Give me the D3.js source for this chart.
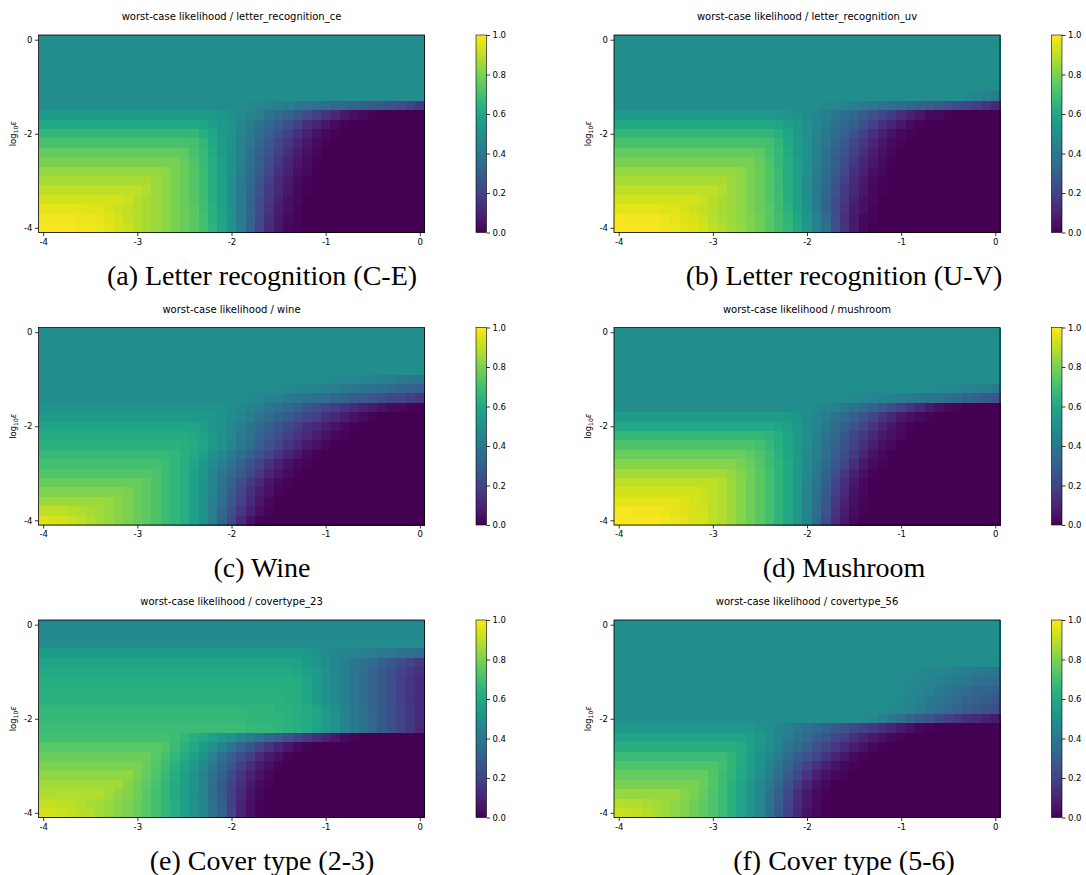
<!DOCTYPE html>
<meta charset="utf-8">
<style>
body { margin: 0; background: #fff; }
svg { display: block; }
.axis text { font-family: "DejaVu Sans", sans-serif; font-size: 8.5px; fill: #000; }
.axis path { display: none; }
.axis line { stroke: #000; stroke-width: 0.8; }
.title { font-family: "DejaVu Sans", sans-serif; font-size: 10px; fill: #000; }
.ylabel { font-family: "DejaVu Sans", sans-serif; font-size: 8.5px; fill: #000; }
.caption { font-family: "Liberation Serif", serif; font-size: 28px; fill: #000; }
.cell { shape-rendering: crispEdges; }
</style>
<svg width="1086" height="875" class="top"></svg>
<script src="https://d3js.org/d3.v7.min.js"></script>
<script>

// ticks and labels
var xTicks = [-4, -3, -2, -1, 0];
var yTicks = [0, -2, -4];
var cbTicks = [0, 0.2, 0.4, 0.6, 0.8, 1.0];
var titles = ["worst-case likelihood / letter_recognition_ce", "worst-case likelihood / letter_recognition_uv",
  "worst-case likelihood / wine", "worst-case likelihood / mushroom",
  "worst-case likelihood / covertype_23", "worst-case likelihood / covertype_56"];
var captions = ["(a) Letter recognition (C-E)", "(b) Letter recognition (U-V)", "(c) Wine",
  "(d) Mushroom", "(e) Cover type (2-3)", "(f) Cover type (5-6)"];

// grid values in hundredths, rows from log10 eps = 0 (top) down to -4,
// columns from x = -4 to 0 in steps of 0.1 (groups of ten)
var letterCe = [
  "49494949494949494949 49494949494949494949 49494949494949494949 49494949494949494949 49",
  "49494949494949494949 49494949494949494949 49494949494949494949 49494949494949494949 49",
  "49494949494949494949 49494949494949494949 49494949494949494949 49494949494949494949 49",
  "49494949494949494949 49494949494949494949 49494949494949494949 49494949494949494949 49",
  "49494949494949494949 49494949494949494949 49494949494949494949 49494949494949494949 49",
  "49494949494949494949 49494949494949494949 49494949494949494949 49494949494949494949 49",
  "49494949494949494949 49494949494949494949 49494949494949494949 49494949494949494949 49",
  "49494949494949494949 49494949494949494949 49494746454342403937 36343331302827252320 16",
  "55555555555555555555 55555555555555555452 50484542383531272319 15110704020100000000 00",
  "60606060606060606060 60606060606060595653 50464238332924191410 06030100000000000000 00",
  "66666666666666666666 66666666666666635954 50454035302519140905 02010000000000000000 00",
  "71717171717171717171 71717171717170666055 50443933272116100603 01000000000000000000 00",
  "76767676767676767676 76767676767571676155 50443731251913080402 00000000000000000000 00",
  "80808080808080808080 80808080797672676256 50433629231610060301 00000000000000000000 00",
  "84848484848484848484 84848483807773686256 50423528211409040200 00000000000000000000 00",
  "87878787878787878787 87878583807773686256 49413426191207030100 00000000000000000000 00",
  "90909090909090909090 90888583807773686356 49413325171106020100 00000000000000000000 00",
  "93939393939393939392 89878583807773696357 49413224160904020000 00000000000000000000 00",
  "96969696969595949291 89878583807774696457 50413223150804010000 00000000000000000000 00",
  "98989898979796959391 89878583807774706458 50413122140703010000 00000000000000000000 00",
  "99999999989897969492 89878583807774706559 51423121120602010000 00000000000000000000 00"
];

var letterUv = [
  "49494949494949494949 49494949494949494949 49494949494949494949 49494949494949494949 49",
  "49494949494949494949 49494949494949494949 49494949494949494949 49494949494949494949 49",
  "49494949494949494949 49494949494949494949 49494949494949494949 49494949494949494949 49",
  "49494949494949494949 49494949494949494949 49494949494949494949 49494949494949494949 49",
  "49494949494949494949 49494949494949494949 49494949494949494949 49494949494949494949 49",
  "49494949494949494949 49494949494949494949 49494949494949494949 49494949494949494949 49",
  "49494949494949494949 49494949494949494949 49494949494949494949 49494949494949474644 42",
  "49494949494949494949 49494949494949494949 49494746444341403836 35333129272523211815 12",
  "54545454545454545454 54545454545454535250 48464340363329252117 13090603020100000000 00",
  "60606060606060606060 60606060606060595653 50464238332924191410 06030100000000000000 00",
  "66666666666666666666 66666666666666635954 50454035302519140905 02010000000000000000 00",
  "71717171717171717171 71717171717170666055 50443933272116100603 01000000000000000000 00",
  "76767676767676767676 76767676767571676155 50443731251913080402 00000000000000000000 00",
  "80808080808080808080 80808080797672676256 50433629231610060301 00000000000000000000 00",
  "84848484848484848484 84848483807773686256 50423528211409040200 00000000000000000000 00",
  "87878787878787878787 87878583807773686256 49413426191207030100 00000000000000000000 00",
  "90909090909090909090 90888583807773686356 49413325171106020100 00000000000000000000 00",
  "93939393939393939392 89878583807773696357 49413224160904020000 00000000000000000000 00",
  "96969696969595949291 89878583807774696457 50413223150804010000 00000000000000000000 00",
  "99989898989796959492 89878583817874706559 52443424140702010000 00000000000000000000 00",
  "99999999999897969593 90888684817874706660 53453625150702000000 00000000000000000000 00"
];

var wine = [
  "49494949494949494949 49494949494949494949 49494949494949494949 49494949494949494949 49",
  "49494949494949494949 49494949494949494949 49494949494949494949 49494949494949494949 49",
  "49494949494949494949 49494949494949494949 49494949494949494949 49494949494949494949 49",
  "49494949494949494949 49494949494949494949 49494949494949494949 49494949494949494949 49",
  "49494949494949494949 49494949494949494949 49494949494949494949 49494949494949494949 49",
  "49494949494949494949 49494949494949494949 49494949494949494949 48474646454443424140 39",
  "49494949494949494949 49494949494949494949 49494949494847464544 43424140383736343331 30",
  "49494949494949494949 49494949494949494949 49494746444341403836 35333129282624222119 17",
  "50505050505050505050 50505050505050505050 49474542393633302724 21181512090705030201 00",
  "54545454545454545454 54545454545454545351 48454238353128242118 14110805030100000000 00",
  "58585858585858585858 58585858585858565350 46423834302622181411 08050301000000000000 00",
  "61616161616161616161 61616161616160575450 46413732282319151108 05020100000000000000 00",
  "64646464646464646464 64646464646361585450 45403530252015110704 02000000000000000000 00",
  "67676767676767676767 67676767666360565146 41363025201510060301 00000000000000000000 00",
  "70707070707070707070 70707069666258534842 37312520140905020100 00000000000000000000 00",
  "73737373737373737373 73737269666257524640 34282216100603010000 00000000000000000000 00",
  "77777777777777777777 77757269666257514538 31241711060301000000 00000000000000000000 00",
  "81818181818181818180 77757269666257514437 29211408040100000000 00000000000000000000 00",
  "85858585858585848280 77757269666257504335 27191206020000000000 00000000000000000000 00",
  "90909089888786848280 77757269666257504233 24160904010000000000 00000000000000000000 00",
  "95949392908886848280 77757269666257504232 22120501000000000000 00000000000000000000 00"
];

var mushroom = [
  "49494949494949494949 49494949494949494949 49494949494949494949 49494949494949494949 49",
  "49494949494949494949 49494949494949494949 49494949494949494949 49494949494949494949 49",
  "49494949494949494949 49494949494949494949 49494949494949494949 49494949494949494949 49",
  "49494949494949494949 49494949494949494949 49494949494949494949 49494949494949494949 49",
  "49494949494949494949 49494949494949494949 49494949494949494949 49494949494949494949 49",
  "49494949494949494949 49494949494949494949 49494949494949494949 49494949494949494949 49",
  "49494949494949494949 49494949494949494949 49494949494949494949 49494848474746454443 41",
  "49494949494949494949 49494949494949494949 49494949484746454443 42414038373534323028 26",
  "49494949494949494949 49494949494949494949 49474543403734312723 19151107040201000000 00",
  "55555555555555555555 55555555555555555452 49464238343025201511 07040201000000000000 00",
  "60606060606060606060 60606060606060595653 49454035302520151006 03010000000000000000 00",
  "66666666666666666666 66666666666665625854 49443833272116110704 02000000000000000000 00",
  "72727272727272727272 72727272727067635954 49433731251913080402 00000000000000000000 00",
  "77777777777777777777 77777777757268645954 48423629231610050200 00000000000000000000 00",
  "82828282828282828282 82828280777369656054 48413427201307030100 00000000000000000000 00",
  "86868686868686868686 86868481787470656054 47403224160904010000 00000000000000000000 00",
  "90909090909090909090 90888582787470656054 46383021130702000000 00000000000000000000 00",
  "93939393939393939392 90888582787470656053 45372819110502000000 00000000000000000000 00",
  "96969696969696959392 90888582787470656053 45362617090401000000 00000000000000000000 00",
  "99999898989796959493 90888582787470656053 45352515080301000000 00000000000000000000 00",
  "99999999999897969493 90888582787470656053 45342313060200000000 00000000000000000000 00"
];

var cover23 = [
  "46464646464646464646 46464646464646464646 46464646464646464646 46464646464646464646 46",
  "47474747474747474747 47474747474747474747 47474747474747474747 47474747474747474747 47",
  "48484848484848484848 48484848484848484848 48484848484848484848 48484848484848484848 48",
  "55555555555555555555 55555555555555555555 55555555555555555350 48464544434241403837 36",
  "58585858585858585858 58585858585858585858 58585858585858575552 49464340373430272320 17",
  "60606060606060606060 60606060606060606060 60606060606060595754 50474339363228242017 14",
  "62626262626262626262 62626262626262626262 62626262626262615855 51474339353127231915 12",
  "63636363636363636363 63636363636363636363 63636363636363625955 51474339353127231915 12",
  "64646464646464646464 64646464646464646464 64646464646463625955 51474339353127231915 11",
  "66666666666666666666 66666666666666666666 66666565656464636158 55504541373328242016 12",
  "67676767676767676767 67676767676767676767 67676666656564636158 55504541373328242016 12",
  "68686868686868686868 68686868686868686868 68686767666564636158 55504541373328242016 11",
  "70707070707070707070 70707070686663605753 50464238332925211713 10060301000000000000 00",
  "74747474747474747474 74747472686460555044 38322620151006030100 00000000000000000000 00",
  "77777777777777777777 77777470666156504437 30241812070401000000 00000000000000000000 00",
  "80808080808080808080 80777369645953474033 26191308040100000000 00000000000000000000 00",
  "83838383838383838383 80767267625751443730 22150905020000000000 00000000000000000000 00",
  "86868686868686868682 78757166615650433628 20130703010000000000 00000000000000000000 00",
  "88888888888888868381 78747066615650443628 19110502000000000000 00000000000000000000 00",
  "91919090898786848280 77747066625751453729 19100401000000000000 00000000000000000000 00",
  "93939291898886848280 77747066625751453830 20100401000000000000 00000000000000000000 00"
];

var cover56 = [
  "49494949494949494949 49494949494949494949 49494949494949494949 49494949494949494949 49",
  "49494949494949494949 49494949494949494949 49494949494949494949 49494949494949494949 49",
  "49494949494949494949 49494949494949494949 49494949494949494949 49494949494949494949 49",
  "49494949494949494949 49494949494949494949 49494949494949494949 49494949494949494949 49",
  "49494949494949494949 49494949494949494949 49494949494949494949 49494949494949494949 49",
  "49494949494949494949 49494949494949494949 49494949494949494949 49484746454443424140 39",
  "49494949494949494949 49494949494949494949 49494949494949494949 48474645434240393736 35",
  "49494949494949494949 49494949494949494949 49494949494949494949 48464543413937353332 30",
  "49494949494949494949 49494949494949494949 49494949494949494949 47454341393734323028 26",
  "49494949494949494949 49494949494949494949 49494949494949494847 46444239373432292725 23",
  "49494949494949494949 49494949494949494949 49494949494948464340 36322825221916131109 07",
  "53535353535353535353 53535353535149464340 37343128252219161310 07040201000000000000 00",
  "58585858585858585858 58585858565350464238 34302622181410070402 01000000000000000000 00",
  "63636363636363636363 63636361575349443935 30252116120805020100 00000000000000000000 00",
  "68686868686868686868 68686561565146413530 25201510060301000000 00000000000000000000 00",
  "72727272727272727272 72706661565044383226 20140905020100000000 00000000000000000000 00",
  "76767676767676767676 73696560554943362922 15090502010000000000 00000000000000000000 00",
  "80808080808080808077 73696459534740332517 10050200000000000000 00000000000000000000 00",
  "84848484848484827976 72686458524638302214 07030100000000000000 00000000000000000000 00",
  "89888887868583817875 72686458524537292012 06020000000000000000 00000000000000000000 00",
  "92919089878583817875 72686458524537281911 05020000000000000000 00000000000000000000 00"
];

var grids = [letterCe, letterUv, wine, mushroom, cover23, cover56];

function decode(rows) {
  return rows.map(function(s) {
    s = s.replace(/\s/g, "");
    var out = [];
    for (var i = 0; i < s.length; i += 2) out.push(+s.substr(i, 2) / 100);
    return out;
  });
}

var svg = d3.select(".top");
var colLeft = [38.5, 614],
    rowTop = [35, 327.5, 620],
    width = 386, height = 197.5,
    capX = [262, 844];

var x = d3.scaleLinear().domain([-4.05, 0.05]).range([0, width]);
var y = d3.scaleLinear().domain([0.1, -4.1]).range([0, height]);
var color = d3.scaleSequential(d3.interpolateViridis).domain([0, 1]);
var cb = d3.scaleLinear().domain([0, 1]).range([height, 0]);

var defs = svg.append("defs");
var grad = defs.append("linearGradient")
    .attr("id", "viridis")
    .attr("x1", 0).attr("y1", 1).attr("x2", 0).attr("y2", 0);
grad.selectAll("stop")
  .data(d3.range(0, 1.001, 0.02))
  .enter().append("stop")
    .attr("offset", function(d) { return d; })
    .attr("stop-color", function(d) { return color(d); });

grids.forEach(function(raw, k) {
  var data = decode(raw);
  var col = k % 2, row = Math.floor(k / 2);
  var g = svg.append("g")
      .attr("transform", "translate(" + colLeft[col] + "," + rowTop[row] + ")");

  var cells = [];
  data.forEach(function(r, i) {
    r.forEach(function(v, j) {
      cells.push({ xv: -4 + j * 0.1, yv: -i * 0.2, v: v });
    });
  });

  g.selectAll("rect.cell")
    .data(cells)
    .enter().append("rect")
      .attr("class", "cell")
      .attr("x", function(d) { return x(d.xv - 0.05); })
      .attr("y", function(d) { return y(d.yv + 0.1); })
      .attr("width", x(0.1) - x(0) + 0.5)
      .attr("height", y(-0.2) - y(0) + 0.5)
      .attr("fill", function(d) { return color(d.v); });

  g.append("rect")
      .attr("width", width)
      .attr("height", height)
      .attr("fill", "none")
      .attr("stroke", "#000")
      .attr("stroke-width", 0.8);

  g.append("g")
      .attr("class", "axis")
      .attr("transform", "translate(0," + height + ")")
      .call(d3.axisBottom(x).tickValues(xTicks).tickSize(3.5).tickPadding(2.5)
        .tickFormat(function(d) { return String(d); }));

  g.append("g")
      .attr("class", "axis")
      .call(d3.axisLeft(y).tickValues(yTicks).tickSize(3.5).tickPadding(2.5)
        .tickFormat(function(d) { return String(d); }));

  var yl = g.append("text")
      .attr("class", "ylabel")
      .attr("transform", "translate(-23," + height / 2 + ") rotate(-90)")
      .attr("text-anchor", "middle");
  yl.append("tspan").text("log");
  yl.append("tspan").attr("font-size", "6px").attr("dy", 2).text("10");
  yl.append("tspan").attr("dy", -2).attr("font-style", "italic").text("ε");

  g.append("text")
      .attr("class", "title")
      .attr("x", width / 2)
      .attr("y", -15)
      .attr("text-anchor", "middle")
      .text(titles[k]);

  var cbar = g.append("g").attr("transform", "translate(437.5,0)");
  cbar.append("rect")
      .attr("width", 10.5)
      .attr("height", height)
      .attr("fill", "url(#viridis)")
      .attr("stroke", "#000")
      .attr("stroke-width", 0.6);
  cbar.append("g")
      .attr("class", "axis")
      .attr("transform", "translate(10.5,0)")
      .call(d3.axisRight(cb).tickValues(cbTicks).tickSize(3.5).tickPadding(2.5)
        .tickFormat(d3.format(".1f")));

  svg.append("text")
      .attr("class", "caption")
      .attr("x", capX[col])
      .attr("y", rowTop[row] + height + 52)
      .attr("text-anchor", "middle")
      .text(captions[k]);
});

</script>
